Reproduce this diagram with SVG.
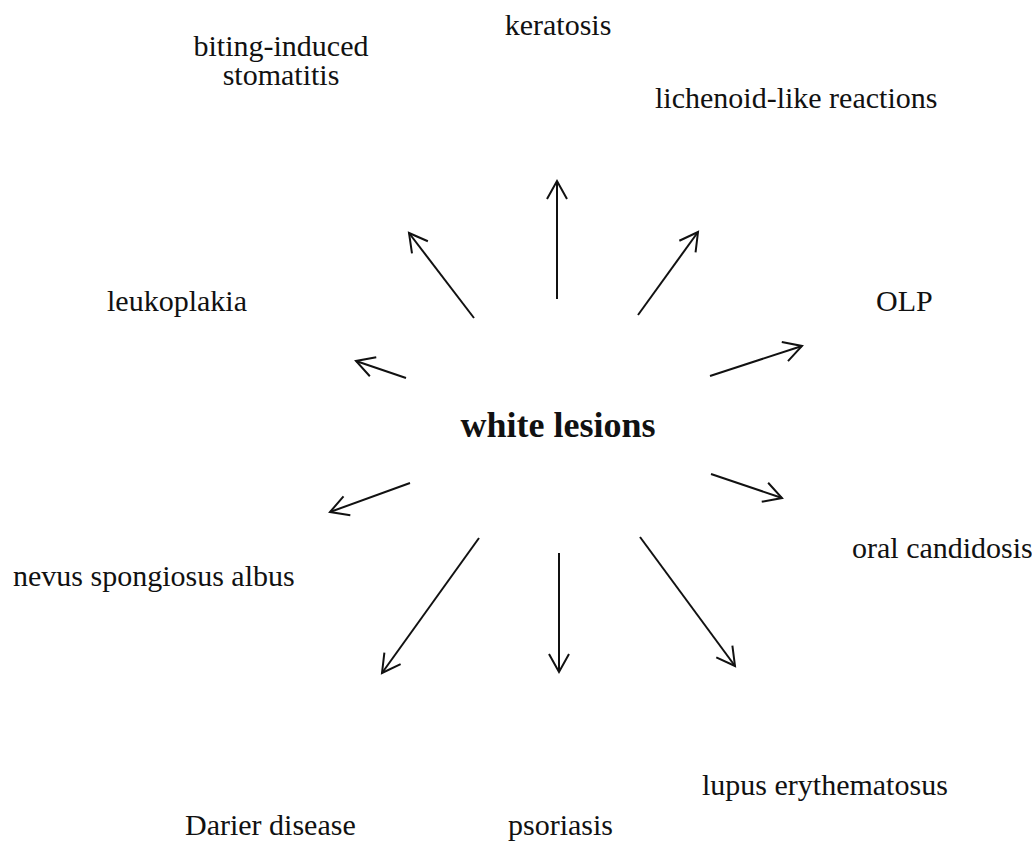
<svg xmlns="http://www.w3.org/2000/svg" width="1032" height="843" viewBox="0 0 1032 843">
<style>
.t{font-family:"Liberation Serif","Times New Roman",serif;font-size:30px;fill:#111;}
.b{font-family:"Liberation Serif","Times New Roman",serif;font-size:36px;font-weight:bold;fill:#111;}
.c{stroke:#111;stroke-width:2;fill:none;}
</style>
<defs>
<marker id="ah" markerUnits="userSpaceOnUse" viewBox="-21 -12 23 24" refX="0" refY="0" markerWidth="23" markerHeight="24" orient="auto" overflow="visible">
<path d="M-18,-10 L0,0 L-18,10" fill="none" stroke="#111" stroke-width="2"/>
</marker>
</defs>
<rect width="1032" height="843" fill="#fff"/>
<g id="center"><text class="b" x="558" y="437" text-anchor="middle">white lesions</text></g>
<g id="keratosis"><text class="t" x="558" y="35" text-anchor="middle">keratosis</text></g>
<g id="biting"><text class="t" x="281" y="56" text-anchor="middle">biting-induced</text><text class="t" x="281" y="85" text-anchor="middle">stomatitis</text></g>
<g id="lichenoid"><text class="t" x="655" y="108">lichenoid-like reactions</text></g>
<g id="leukoplakia"><text class="t" x="107" y="311">leukoplakia</text></g>
<g id="olp"><text class="t" x="876" y="311">OLP</text></g>
<g id="candidosis"><text class="t" x="852" y="558">oral candidosis</text></g>
<g id="nevus"><text class="t" x="13" y="586">nevus spongiosus albus</text></g>
<g id="lupus"><text class="t" x="702" y="795">lupus erythematosus</text></g>
<g id="darier"><text class="t" x="185" y="835">Darier disease</text></g>
<g id="psoriasis"><text class="t" x="508" y="835">psoriasis</text></g>
<g id="connectors">
<line class="c" x1="557" y1="299" x2="557" y2="181" marker-end="url(#ah)"/>
<line class="c" x1="474" y1="318" x2="409" y2="233" marker-end="url(#ah)"/>
<line class="c" x1="638" y1="315" x2="698" y2="232" marker-end="url(#ah)"/>
<line class="c" x1="406" y1="378" x2="356" y2="361" marker-end="url(#ah)"/>
<line class="c" x1="710" y1="376" x2="802" y2="346" marker-end="url(#ah)"/>
<line class="c" x1="410" y1="483" x2="330" y2="512" marker-end="url(#ah)"/>
<line class="c" x1="711" y1="474" x2="782" y2="498" marker-end="url(#ah)"/>
<line class="c" x1="479" y1="538" x2="382" y2="673" marker-end="url(#ah)"/>
<line class="c" x1="559" y1="553" x2="559" y2="672" marker-end="url(#ah)"/>
<line class="c" x1="640" y1="537" x2="735" y2="666" marker-end="url(#ah)"/>
</g>
</svg>
